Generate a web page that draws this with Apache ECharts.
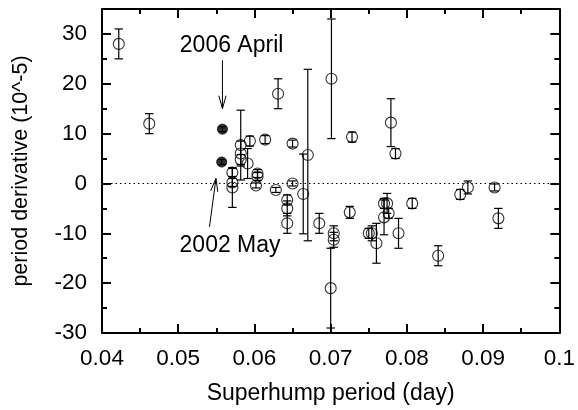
<!DOCTYPE html>
<html>
<head>
<meta charset="utf-8">
<script src="https://cdn.jsdelivr.net/npm/echarts@6/dist/echarts.min.js"></script>
<style>
html,body{margin:0;padding:0;background:#fff;}
#chart{width:578px;height:410px;}
</style>
</head>
<body>
<div id="chart"></div>
<script>
// Open circles: superhump period (day), period derivative (1e-5), error
var openX = [0.0422,0.0462,0.0582,0.0582,0.0582,0.0591,0.0594,0.0614,0.0571,0.0571,0.0571,0.0604,0.0604,0.0602,0.0628,0.0631,0.0701,0.0670,0.0664,0.0728,0.0779,0.0785,0.0650,0.0650,0.0643,0.0643,0.0643,0.0685,0.0704,0.0704,0.0700,0.0725,0.0750,0.0754,0.0760,0.0770,0.0774,0.0776,0.0770,0.0789,0.0807,0.0841,0.0870,0.0880,0.0915,0.0920];
var openY = [28.0,12.0,7.7,6.0,4.8,4.0,8.5,8.8,2.2,0.2,-0.8,2.0,1.4,-0.4,-1.3,18.0,21.0,5.7,-2.1,9.3,12.2,6.0,8.0,0.0,-3.3,-5.0,-8.0,-8.0,-10.0,-11.3,-21.0,-5.8,-10.0,-10.0,-12.0,-4.0,-4.0,-6.0,-6.8,-10.0,-4.0,-14.5,-2.2,-0.8,-0.8,-7.0];
var openErr = [3.0,2.0,7.0,2.5,1.0,3.0,1.0,0.8,0.8,0.8,4.0,0.8,0.8,0.5,0.5,3.0,12.0,17.2,8.0,1.0,4.8,1.0,0.7,0.5,1.0,1.5,2.0,2.0,1.5,1.5,8.0,1.2,1.0,1.5,4.0,1.0,2.0,1.0,3.5,3.0,1.0,2.0,1.0,1.3,0.7,2.0];
// Filled circles (2006 April, 2002 May)
var fillX = [0.0558,0.0557];
var fillY = [10.9,4.3];
var fillErr = [0.5,0.5];
// Annotations: label, text position, arrow start, arrow end
var annLabels = ['2006 April','2002 May'];
var annTextX = [0.0570,0.0568];
var annTextY = [27.6,-12.4];
var annFromX = [0.0558,0.0541];
var annFromY = [24.7,-8.7];
var annToX = [0.0558,0.05495];
var annToY = [15.0,1.0];
// Axis ticks
var xMin = 0.04, xMax = 0.1, xStep = 0.01;
var yMin = -30, yMax = 35, yStep = 10;

var FONT = '"Liberation Sans", Arial, Helvetica, sans-serif';

var openData = openX.map(function(x,i){return [x, openY[i], openErr[i]];});
var fillData = fillX.map(function(x,i){return [x, fillY[i], fillErr[i]];});
var allErr = openData.concat(fillData);
var annData = annLabels.map(function(l,i){return [annFromX[i],annFromY[i],annToX[i],annToY[i],annTextX[i],annTextY[i],i];});

var chart = echarts.init(document.getElementById('chart'), null, {renderer:'canvas'});

function errRender(params, api){
  var x = api.value(0), y = api.value(1), e = api.value(2);
  var top = api.coord([x, y + e]);
  var bot = api.coord([x, y - e]);
  var hw = 4.2;
  var st = {stroke:'#000', lineWidth:1.2};
  return {type:'group', children:[
    {type:'line', shape:{x1:top[0],y1:top[1],x2:bot[0],y2:bot[1]}, style:st},
    {type:'line', shape:{x1:top[0]-hw,y1:top[1],x2:top[0]+hw,y2:top[1]}, style:st},
    {type:'line', shape:{x1:bot[0]-hw,y1:bot[1],x2:bot[0]+hw,y2:bot[1]}, style:st}
  ]};
}

function annRender(params, api){
  var p1 = api.coord([api.value(0), api.value(1)]);
  var p2 = api.coord([api.value(2), api.value(3)]);
  var pt = api.coord([api.value(4), api.value(5)]);
  var idx = api.value(6);
  var dx = p2[0]-p1[0], dy = p2[1]-p1[1];
  var len = Math.sqrt(dx*dx+dy*dy); dx/=len; dy/=len;
  var hl = 13, hw = 3.6;
  var bx = p2[0]-dx*hl, by = p2[1]-dy*hl;
  var nx = -dy, ny = dx;
  var st = {stroke:'#000', lineWidth:1};
  return {type:'group', children:[
    {type:'line', shape:{x1:p1[0],y1:p1[1],x2:p2[0],y2:p2[1]}, style:st},
    {type:'polyline', shape:{points:[[bx+nx*hw,by+ny*hw],[p2[0],p2[1]],[bx-nx*hw,by-ny*hw]]}, style:{stroke:'#000',lineWidth:1,fill:null}},
    {type:'text', x:pt[0], y:pt[1], style:{text:annLabels[idx], font:'23px '+FONT, fill:'#000', align:'center', verticalAlign:'middle'}}
  ]};
}

var axisLineStyle = {color:'#000', width:2};
function xAx(pos, labels){
  return {
    type:'value', position:pos, min:xMin, max:xMax, interval:xStep,
    axisLine:{show:true, onZero:false, lineStyle:axisLineStyle},
    axisTick:{show:true, inside:true, length:9, lineStyle:{color:'#000', width:2}},
    minorTick:{show:true, splitNumber:2, length:5, lineStyle:{color:'#000', width:2}},
    splitLine:{show:false}, minorSplitLine:{show:false},
    axisLabel:{show:labels, color:'#000', fontSize:22.5, fontFamily:FONT, margin:14,
      formatter:function(v){return String(+v.toFixed(3));}},
    name: labels ? 'Superhump period (day)' : '',
    nameLocation:'middle', nameGap:49,
    nameTextStyle:{color:'#000', fontSize:23, fontFamily:FONT}
  };
}
function yAx(pos, step, len, labels, line){
  return {
    type:'value', position:pos, min:yMin, max:yMax, interval:step,
    axisLine:{show:line, onZero:false, lineStyle:axisLineStyle},
    axisTick:{show:true, inside:true, length:len, lineStyle:{color:'#000', width:2}},
    splitLine:{show:false},
    axisLabel:{show:labels, color:'#000', fontSize:22.5, fontFamily:FONT, margin:15,
      formatter:function(v){return v === yMax ? '' : String(v);}},
    name: labels ? 'period derivative (10^-5)' : '',
    nameLocation:'middle', nameGap:70,
    nameTextStyle:{color:'#000', fontSize:21.5, fontFamily:FONT}
  };
}

chart.setOption({
  backgroundColor:'#fff',
  animation:false,
  grid:{left:102, right:17, top:9, bottom:77, containLabel:false},
  xAxis:[xAx('bottom', true), xAx('top', false)],
  yAxis:[yAx('left', yStep, 9, true, true), yAx('left', yStep/2, 5, false, false),
         yAx('right', yStep, 9, false, true), yAx('right', yStep/2, 5, false, false)],
  series:[
    {type:'custom', name:'err', renderItem:errRender, data:allErr, z:2,
     encode:{x:0, y:1}, silent:true,
     markLine:{silent:true, symbol:['none','none'], label:{show:false},
       lineStyle:{color:'#000', type:[1.5,3], width:1},
       data:[{yAxis:0}]}},
    {type:'scatter', name:'open', data:openData, symbol:'circle', symbolSize:11, z:3,
     itemStyle:{color:'rgba(0,0,0,0)', borderColor:'#000', borderWidth:1.1}},
    {type:'scatter', name:'filled', data:fillData, symbol:'circle', symbolSize:10, z:3,
     itemStyle:{color:'#000', borderColor:'#000', borderWidth:1}},
    {type:'custom', name:'ann', renderItem:annRender, data:annData, z:4, silent:true,
     encode:{x:[0,2], y:[1,3]}}
  ]
});
</script>
</body>
</html>
